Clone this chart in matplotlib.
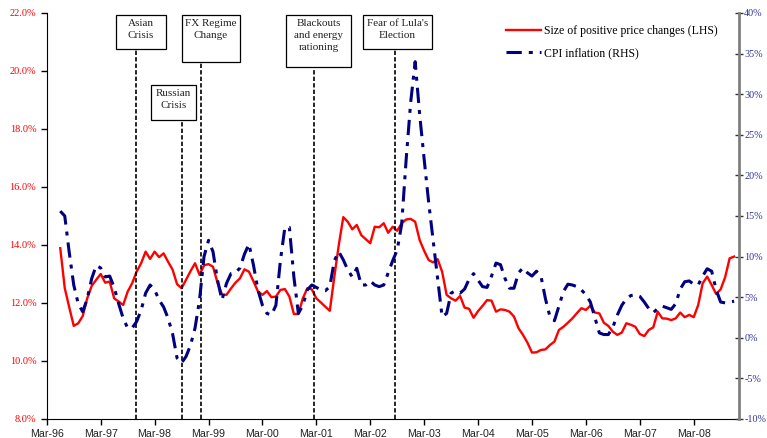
import matplotlib.pyplot as plt
from matplotlib.patches import Rectangle
from matplotlib.lines import Line2D

plt.rcParams['font.family'] = ['Liberation Serif', 'DejaVu Serif']

# months counted from Mar-96 (=0); data runs Jun-96 .. Dec-08
months = list(range(3, 154))

price_change_size = [
    13.89, 12.51, 11.85, 11.21, 11.30, 11.55, 12.16, 12.59, 12.80, 13.00,
    12.70, 12.74, 12.16, 12.05, 11.93, 12.39, 12.68, 13.08, 13.37, 13.77,
    13.52, 13.77, 13.58, 13.71, 13.42, 13.15, 12.65, 12.51, 12.80, 13.10,
    13.37, 12.97, 13.30, 13.34, 13.25, 12.70, 12.30, 12.28, 12.50, 12.70,
    12.85, 13.16, 13.08, 12.75, 12.40, 12.28, 12.41, 12.20, 12.22, 12.45,
    12.48, 12.22, 11.62, 11.62, 12.16, 12.51, 12.47, 12.16, 12.02, 11.87,
    11.73, 12.90, 14.00, 14.96, 14.80, 14.54, 14.69, 14.34, 14.20, 14.06,
    14.63, 14.61, 14.75, 14.42, 14.63, 14.49, 14.75, 14.88, 14.90, 14.80,
    14.17, 13.80, 13.48, 13.40, 13.51, 13.08, 12.28, 12.16, 12.08, 12.24,
    11.84, 11.80, 11.49, 11.72, 11.90, 12.10, 12.08, 11.70, 11.78, 11.76,
    11.70, 11.53, 11.13, 10.90, 10.63, 10.29, 10.30, 10.38, 10.40, 10.55,
    10.67, 11.07, 11.18, 11.32, 11.47, 11.65, 11.82, 11.76, 11.91, 11.67,
    11.64, 11.32, 11.21, 11.01, 10.90, 10.98, 11.30, 11.25, 11.18, 10.93,
    10.86, 11.07, 11.16, 11.70, 11.47, 11.46, 11.41, 11.47, 11.67, 11.51,
    11.59, 11.51, 11.93, 12.68, 12.91, 12.62, 12.31, 12.47, 12.89, 13.54,
    13.60,
]

cpi_inflation = [
    15.6, 15.0, 10.5, 6.5, 4.2, 3.2, 4.8, 7.3, 8.9, 8.6,
    7.5, 7.6, 6.2, 4.2, 2.4, 1.2, 1.2, 2.0, 3.4, 5.5,
    6.5, 5.9, 4.65, 3.8, 2.4, 0.5, -2.5, -3.1, -2.3, -0.9,
    1.2, 4.65, 10.0, 12.0, 10.6, 7.1, 4.65, 6.7, 7.9, 8.0,
    8.6, 10.3, 11.55, 8.97, 5.9, 4.0, 3.0, 2.8, 4.0, 9.5,
    13.6, 13.6, 7.5, 3.0, 4.0, 5.9, 6.5, 6.2, 5.9, 5.8,
    6.3, 9.5, 10.6, 9.6, 8.35, 7.5, 8.56, 6.5, 6.5, 7.0,
    6.5, 6.3, 6.5, 8.0, 9.5, 10.8, 14.0, 22.0, 29.0, 34.0,
    27.5, 22.0, 16.7, 12.0, 7.3, 2.6, 3.0, 5.5, 5.8, 5.5,
    6.0, 7.2, 7.9, 7.1, 6.3, 6.2, 7.6, 9.2, 9.0, 7.3,
    6.1, 6.1, 8.0, 8.6, 8.0, 7.6, 8.2, 7.6, 4.8, 2.6,
    2.1, 3.9, 5.7, 6.6, 6.5, 6.3, 5.9, 5.3, 4.4, 2.5,
    0.6, 0.4, 0.4, 1.3, 2.8, 4.0, 4.8, 5.2, 5.3, 5.1,
    4.4, 3.6, 3.1, 3.6, 3.9, 3.7, 3.5, 4.2, 6.0, 6.9,
    7.0, 6.6, 6.5, 7.6, 8.5, 8.2, 5.9, 4.4, 4.3, 4.4,
    4.5,
]

tick_labels = ['Mar-96', 'Mar-97', 'Mar-98', 'Mar-99', 'Mar-00', 'Mar-01', 'Mar-02',
               'Mar-03', 'Mar-04', 'Mar-05', 'Mar-06', 'Mar-07', 'Mar-08']

event_labels = ['Asian\nCrisis', 'Russian\nCrisis', 'FX Regime\nChange',
                'Blackouts\nand energy\nrationing', "Fear of Lula's\nElection"]
event_months = [19.8, 30.1, 34.3, 59.5, 77.6]

# box layout (x0, x1, y_bottom, y_top) in (month, LHS %) units
boxes = [(15.3, 26.5, 20.75, 21.92), (23.1, 33.2, 18.31, 19.51),
         (30.1, 43.0, 20.31, 21.92), (53.3, 67.7, 20.15, 21.92),
         (70.4, 85.8, 20.75, 21.92)]

fig = plt.figure(figsize=(7.67, 4.38), dpi=100)
ax = fig.add_axes([0.061, 0.0434, 0.902, 0.927])
ax2 = ax.twinx()

ax.plot(months, price_change_size, color='#FF0000', lw=1.7, zorder=3)
ax2.plot(months, cpi_inflation, color='#000080', lw=2.2, dashes=(5, 2.3, 1.3, 2.3))

for lab, xm, (x0, x1, yb, yt) in zip(event_labels, event_months, boxes):
    ax.plot([xm, xm], [8, yb], color='black', lw=1.2, dashes=(2.6, 1.3), zorder=4)
    ax.add_patch(Rectangle((x0, yb), x1 - x0, yt - yb, facecolor='white',
                           edgecolor='black', lw=0.9, zorder=5))
    ax.text((x0 + x1) / 2, yt - 0.12, lab, ha='center', va='top', fontsize=8,
            linespacing=1.45, color='#222222', zorder=6)

ax.set_xlim(0, 154)
ax.set_ylim(8, 22)
ax.set_yticks(range(8, 23, 2))
ax.set_yticklabels(['%.1f%%' % v for v in range(8, 23, 2)], color='#FF0000', fontsize=7.5)
ax.set_xticks(range(0, 145, 12))
ax.set_xticklabels(tick_labels, family='Liberation Sans', fontsize=7.7, color='#222222')
ax.tick_params(axis='y', direction='out', length=4, width=1)
ax.tick_params(axis='x', direction='out', length=4, width=1)

ax2.set_ylim(-10, 40)
ax2.set_yticks(range(-10, 41, 5))
ax2.set_yticklabels(['%d%%' % v for v in range(-10, 41, 5)], color='#333399', fontsize=7.3)
ax2.tick_params(axis='y', direction='inout', length=6, width=1, colors='#333333',
                labelcolor='#333399', pad=1)

for a in (ax, ax2):
    a.spines['top'].set_visible(False)
ax.spines['right'].set_visible(False)
ax2.spines['left'].set_visible(False)
ax2.spines['bottom'].set_visible(False)
ax2.spines['right'].set_color('#808080')
ax2.spines['right'].set_linewidth(2)

handles = [Line2D([], [], color='#FF0000', lw=1.7),
           Line2D([], [], color='#000080', lw=2.2, dashes=(5, 2.3, 1.3, 2.3))]
ax2.legend(handles, ['Size of positive price changes (LHS)', 'CPI inflation (RHS)'],
           loc='upper left', bbox_to_anchor=(0.655, 0.985), frameon=False,
           fontsize=8.5, handlelength=3, handletextpad=0.2, labelspacing=0.85,
           borderpad=0)

plt.savefig('out.png', dpi=100)
